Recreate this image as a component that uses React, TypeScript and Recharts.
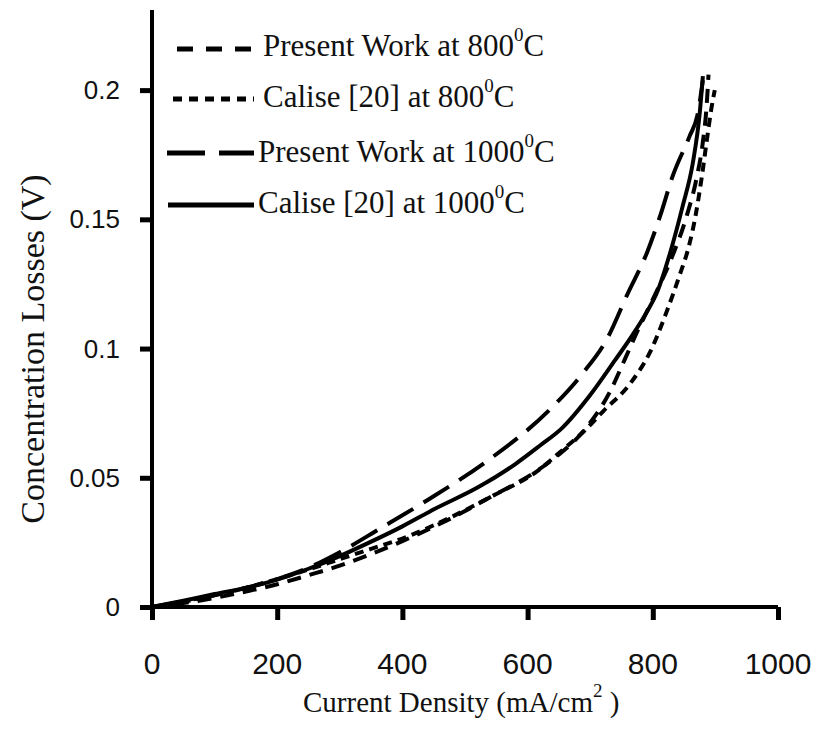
import { LineChart, Line, XAxis, YAxis } from 'recharts';

// Present Work at 800 C
const pw800X = [0, 50, 100, 150, 200, 250, 300, 350, 400, 471, 545, 615, 650, 689, 732, 756, 775, 800, 830, 855, 870, 880, 886, 889];
const pw800Y = [0, 0.0015, 0.0035, 0.006, 0.0088, 0.0123, 0.016, 0.0205, 0.0255, 0.0335, 0.0431, 0.0527, 0.059, 0.068, 0.0835, 0.0962, 0.1065, 0.119, 0.135, 0.152, 0.166, 0.18, 0.194, 0.206];

// Calise [20] at 800 C
const cal800X = [0, 50, 100, 150, 200, 250, 300, 350, 400, 471, 545, 615, 657, 690, 721, 764, 796, 822, 843, 857, 868, 878, 886, 893, 899];
const cal800Y = [0, 0.002, 0.0045, 0.0075, 0.0108, 0.0145, 0.0185, 0.0225, 0.0265, 0.034, 0.0431, 0.0525, 0.061, 0.068, 0.0758, 0.0865, 0.0988, 0.1142, 0.1285, 0.139, 0.151, 0.166, 0.18, 0.192, 0.2];

// Present Work at 1000 C
const pw1000X = [0, 50, 100, 150, 200, 250, 300, 364, 441, 540, 636, 688, 727, 759, 791, 812, 832, 859, 871, 880];
const pw1000Y = [0, 0.0022, 0.0046, 0.0074, 0.0108, 0.0152, 0.0212, 0.0303, 0.0415, 0.0573, 0.0765, 0.0904, 0.1038, 0.1208, 0.1373, 0.1515, 0.1669, 0.1823, 0.19, 0.2038];

// Calise [20] at 1000 C
const cal1000X = [0, 50, 100, 157, 200, 250, 300, 345, 400, 452, 520, 581, 620, 655, 700, 740, 768, 790, 807, 827, 848, 864, 875, 880];
const cal1000Y = [0, 0.0024, 0.005, 0.0078, 0.0106, 0.0148, 0.0197, 0.0247, 0.0312, 0.038, 0.0462, 0.0554, 0.0625, 0.0692, 0.082, 0.0956, 0.1054, 0.114, 0.1219, 0.1365, 0.1554, 0.1719, 0.1912, 0.2054];

const xTicks = [0, 200, 400, 600, 800, 1000];
const yTicks = [0, 0.05, 0.1, 0.15, 0.2];

const toPoints = (xs: number[], ys: number[]) => xs.map((x, i) => ({ x, y: ys[i] }));

const SERIF = '"Liberation Serif", "Times New Roman", serif';
const SANS = '"Liberation Sans", Arial, sans-serif';

const legendRows = [
  { label: 'Present Work at 800', dash: '16 13', x1: 177, y: 49, tx: 263, ty: 56 },
  { label: 'Calise [20] at 800', dash: '9 7', x1: 173, y: 99, tx: 263, ty: 107 },
  { label: 'Present Work at 1000', dash: '38 14', x1: 167, y: 153, tx: 258, ty: 162 },
  { label: 'Calise [20] at 1000', dash: undefined, x1: 168, y: 205, tx: 258, ty: 213 },
];

// tick mark + label, drawn from the axis position
function XTick(props: any) {
  const { x, y, payload } = props;
  return (
    <g>
      <rect x={x - 2} y={y} width={5} height={13} fill="#000" />
      <text x={x} y={y + 67} textAnchor="middle" fontFamily={SANS} fontSize={30} fill="#111">
        {payload.value}
      </text>
    </g>
  );
}

function YTick(props: any) {
  const { x, y, payload } = props;
  return (
    <g>
      <rect x={x - 12} y={y - 2} width={12} height={5} fill="#000" />
      <text x={x - 32} y={y + 9} textAnchor="end" fontFamily={SANS} fontSize={26} fill="#111">
        {payload.value}
      </text>
    </g>
  );
}

function Overlay() {
  return (
    <svg
      width={816}
      height={731}
      style={{ position: 'absolute', left: 0, top: 0, pointerEvents: 'none' }}
    >
      {legendRows.map((r) => (
        <g key={r.label}>
          <line x1={r.x1} x2={254} y1={r.y} y2={r.y} stroke="#000" strokeWidth={5} strokeDasharray={r.dash} />
          <text x={r.tx} y={r.ty} fontFamily={SERIF} fontSize={31} fill="#111">
            <tspan>{r.label}</tspan>
            <tspan dy={-15} fontSize={19}>0</tspan>
            <tspan dy={15}>C</tspan>
          </text>
        </g>
      ))}
      <text
        x={0}
        y={0}
        transform="translate(44 349) rotate(-90)"
        textAnchor="middle"
        fontFamily={SERIF}
        fontSize={34}
        fill="#111"
      >
        Concentration Losses (V)
      </text>
      <text x={303} y={712} fontFamily={SERIF} fontSize={29} fill="#111">
        <tspan>Current Density (mA/cm</tspan>
        <tspan dy={-15} fontSize={19}>2</tspan>
        <tspan dy={15}> )</tspan>
      </text>
    </svg>
  );
}

export default function App() {
  return (
    <div style={{ position: 'absolute', left: 0, top: 0, width: 816, height: 731, background: '#fff' }}>
      <LineChart width={816} height={731} margin={{ top: 10, right: 38, bottom: 0, left: 0 }}>
        <XAxis
          xAxisId="x"
          dataKey="x"
          type="number"
          domain={[0, 1000]}
          ticks={xTicks}
          height={124}
          stroke="#000"
          tickSize={0}
          tickMargin={0}
          tickLine={false}
          axisLine={{ stroke: '#000', strokeWidth: 4 }}
          tick={<XTick />}
        />
        <XAxis
          xAxisId="top"
          orientation="top"
          type="number"
          domain={[0, 1000]}
          height={0}
          stroke="#000"
          tick={false}
          tickLine={false}
          axisLine={{ stroke: '#000', strokeWidth: 4 }}
        />
        <YAxis
          yAxisId="y"
          type="number"
          domain={[0, 0.231]}
          ticks={yTicks}
          width={152}
          stroke="#000"
          tickSize={0}
          tickMargin={0}
          tickLine={false}
          axisLine={{ stroke: '#000', strokeWidth: 4 }}
          tick={<YTick />}
        />
        <YAxis
          yAxisId="right"
          orientation="right"
          type="number"
          domain={[0, 0.231]}
          width={0}
          stroke="#000"
          tick={false}
          tickLine={false}
          axisLine={{ stroke: '#000', strokeWidth: 4 }}
        />
        <Line
          xAxisId="x"
          yAxisId="y"
          data={toPoints(pw800X, pw800Y)}
          dataKey="y"
          type="monotone"
          stroke="#000"
          strokeWidth={4}
          strokeDasharray="14 9"
          dot={false}
          isAnimationActive={false}
        />
        <Line
          xAxisId="x"
          yAxisId="y"
          data={toPoints(cal800X, cal800Y)}
          dataKey="y"
          type="monotone"
          stroke="#000"
          strokeWidth={4}
          strokeDasharray="9 6"
          dot={false}
          isAnimationActive={false}
        />
        <Line
          xAxisId="x"
          yAxisId="y"
          data={toPoints(pw1000X, pw1000Y)}
          dataKey="y"
          type="monotone"
          stroke="#000"
          strokeWidth={4}
          strokeDasharray="30 12"
          dot={false}
          isAnimationActive={false}
        />
        <Line
          xAxisId="x"
          yAxisId="y"
          data={toPoints(cal1000X, cal1000Y)}
          dataKey="y"
          type="monotone"
          stroke="#000"
          strokeWidth={4}
          dot={false}
          isAnimationActive={false}
        />
      </LineChart>
      <Overlay />
    </div>
  );
}
